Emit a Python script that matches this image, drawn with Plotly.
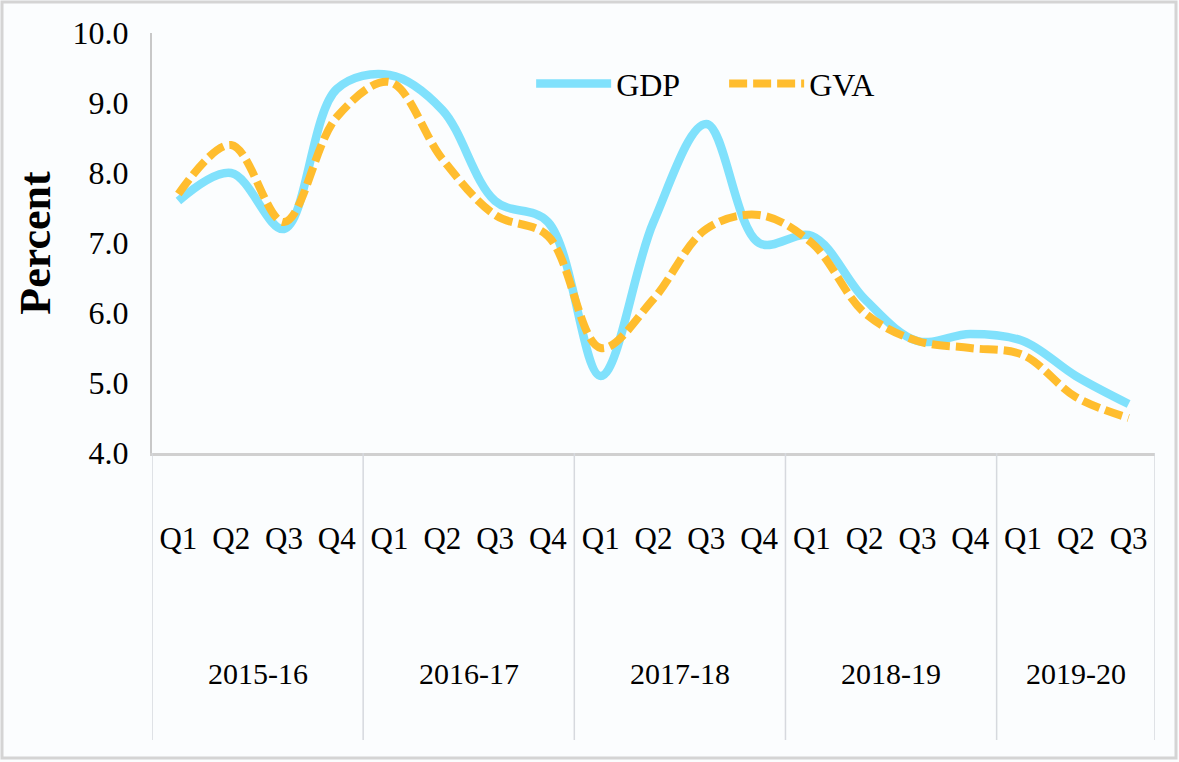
import plotly.graph_objects as go

# ---- data ----
years = ["2015-16"] * 4 + ["2016-17"] * 4 + ["2017-18"] * 4 + ["2018-19"] * 4 + ["2019-20"] * 3
quarters = ["Q1", "Q2", "Q3", "Q4",
            "Q1", "Q2", "Q3", "Q4",
            "Q1", "Q2", "Q3", "Q4",
            "Q1", "Q2", "Q3", "Q4",
            "Q1", "Q2", "Q3"]
gdp = [7.6, 8.0, 7.2, 9.2, 9.4, 8.9, 7.6, 7.3, 5.1, 7.3, 8.7, 7.0, 7.1, 6.2, 5.6, 5.7, 5.6, 5.1, 4.7]
gva = [7.7, 8.4, 7.3, 8.8, 9.3, 8.2, 7.4, 7.1, 5.5, 6.2, 7.2, 7.4, 7.0, 6.0, 5.6, 5.5, 5.4, 4.8, 4.5]
y_ticks = [4.0, 5.0, 6.0, 7.0, 8.0, 9.0, 10.0]

FONT = "Liberation Serif"
xs = list(range(len(quarters)))

fig = go.Figure()
fig.add_trace(go.Scatter(
    x=xs, y=gdp, name="GDP", mode="lines",
    line=dict(color="#80E1FC", width=8.5, shape="spline", smoothing=1.0),
))
fig.add_trace(go.Scatter(
    x=xs, y=gva, name="GVA", mode="lines",
    line=dict(color="#FFBD2E", width=8, shape="spline", smoothing=1.0, dash="18px,6px"),
))

# year groups
groups = []
for i, yr in enumerate(years):
    if not groups or groups[-1][0] != yr:
        groups.append([yr, i, i])
    else:
        groups[-1][2] = i

H_PLOT = 420.0
def py(pixel_below_axis):
    return -pixel_below_axis / H_PLOT

shapes = []
annotations = []
bounds = [g[1] - 0.5 for g in groups] + [groups[-1][2] + 0.5]
for b in bounds:
    shapes.append(dict(type="line", xref="x", yref="paper", x0=b, x1=b,
                       y0=0, y1=py(287), line=dict(color="#D6D9DE", width=1.5)))
for yr, a, b in groups:
    annotations.append(dict(text=yr, x=(a + b) / 2, xref="x", y=py(220), yref="paper",
                            showarrow=False, font=dict(family=FONT, size=30, color="black"),
                            xanchor="center", yanchor="middle"))

# outer frame
L, R, T, B = 152, 24, 33, 309
W, Hh = 1179, 762
pw = W - L - R
def fx(px):
    return (px - L) / pw
def fy(px):
    return (Hh - B - px) / H_PLOT
shapes.append(dict(type="rect", xref="paper", yref="paper",
                   x0=fx(2), x1=fx(1176), y0=fy(2), y1=fy(758),
                   line=dict(color="#D4D4D4", width=3), layer="below"))

fig.update_layout(
    width=W, height=Hh,
    margin=dict(l=L, r=R, t=T, b=B),
    paper_bgcolor="#FBFDFE",
    plot_bgcolor="#FBFDFE",
    font=dict(family=FONT, color="black"),
    showlegend=True,
    legend=dict(orientation="h", x=0.378, y=0.945, xanchor="left", yanchor="top",
                font=dict(family=FONT, size=32, color="black"),
                bgcolor="rgba(0,0,0,0)", itemwidth=75, entrywidth=103,
                entrywidthmode="pixels", tracegroupgap=0),
    shapes=shapes,
    annotations=annotations,
)
fig.update_xaxes(
    range=[-0.5, len(quarters) - 0.5],
    tickvals=xs, ticktext=quarters,
    tickfont=dict(family=FONT, size=31, color="black"),
    ticks="outside", ticklen=56, tickcolor="rgba(0,0,0,0)",
    showgrid=False, zeroline=False,
    showline=True, linecolor="#D0D0D0", linewidth=3,
)
fig.update_yaxes(
    range=[4.0, 10.0],
    tickvals=y_ticks, ticktext=[f"{v:.1f}" for v in y_ticks],
    tickfont=dict(family=FONT, size=32, color="black"),
    ticks="outside", ticklen=15, tickcolor="rgba(0,0,0,0)",
    showgrid=False, zeroline=False,
    showline=True, linecolor="#C8C8C8", linewidth=2,
    title=dict(text="<b>Percent</b>", font=dict(family=FONT, size=44, color="black"), standoff=8),
)

fig.write_html("out.html", config={"displayModeBar": False},
               post_script="document.body.style.margin='0px';")
